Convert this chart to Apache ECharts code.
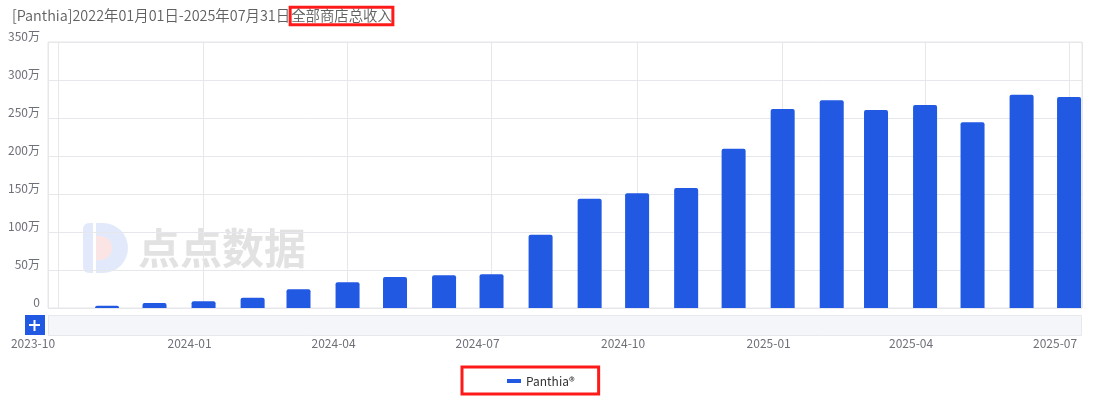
<!DOCTYPE html>
<html>
<head>
<meta charset="utf-8">
<script src="https://cdn.jsdelivr.net/npm/echarts@6/dist/echarts.min.js"></script>
<style>
  html, body { margin: 0; padding: 0; background: #fff; }
  #chart { width: 1094px; height: 399px; }
</style>
</head>
<body>
<div id="chart"></div>
<script>
// Monthly total revenue of all stores, in units of 万
const months = ['2023-11', '2023-12', '2024-01', '2024-02', '2024-03', '2024-04', '2024-05',
  '2024-06', '2024-07', '2024-08', '2024-09', '2024-10', '2024-11', '2024-12',
  '2025-01', '2025-02', '2025-03', '2025-04', '2025-05', '2025-06', '2025-07'];
const revenue = [3, 6.6, 8.8, 13.6, 24.6, 33.8, 40.8, 43, 44.3, 96.5, 143.9, 150.9,
  157.9, 209.6, 261.8, 273.2, 260.5, 267.1, 244.3, 280.7, 277.6];
const seriesName = 'Panthia®';
const titleMain = '[Panthia]2022年01月01日-2025年07月31日';
const titleTail = '全部商店总收入';
const yTicks = [0, 50, 100, 150, 200, 250, 300, 350];

const DAY = 24 * 3600 * 1000;
const BAR_WIDTH = 24;
const GRID_WIDTH = 1034;
// visible time window of the plot
const viewStart = new Date(2023, 9, 1).getTime() - 6.32 * DAY;
const viewSpan = 653.5 * DAY;
// bars on a time axis widen the extent by the bar width; pre-shrink so the
// final window equals the visible one
const pad = viewSpan * (BAR_WIDTH / GRID_WIDTH) / 2;
const axisStart = viewStart + pad;
const axisEnd = viewStart + viewSpan - pad;

const chart = echarts.init(document.getElementById('chart'));
const fontFamily = '"Noto Sans CJK SC", "Noto Sans", sans-serif';

function monthLabel(value) {
  const d = new Date(value);
  const text = d.getFullYear() + '-' + String(d.getMonth() + 1).padStart(2, '0');
  // the leftmost label sits a little further out, near the zoom button
  const isFirst = d.getTime() < new Date(2023, 11, 1).getTime();
  return (isFirst ? '{f|' : '{n|') + text + '}';
}

chart.setOption({
  animation: false,
  textStyle: { fontFamily: fontFamily },
  title: {
    left: 7,
    top: 0,
    text: '{a|' + titleMain + '}{b|' + titleTail + '}',
    textStyle: {
      rich: {
        a: { fontSize: 14.4, color: '#606060', fontWeight: 350, fontFamily: fontFamily, lineHeight: 22 },
        b: {
          fontSize: 14.4, color: '#606060', fontWeight: 350, fontFamily: fontFamily, lineHeight: 20,
          borderColor: '#ff1a1a', borderWidth: 3, padding: [1, 1, 2, 1]
        }
      }
    }
  },
  legend: {
    data: [seriesName],
    left: 462,
    top: 367,
    icon: 'rect',
    itemWidth: 14,
    itemHeight: 4,
    itemGap: 10,
    padding: [8, 24, 7, 45],
    borderColor: '#ff1a1a',
    borderWidth: 3,
    textStyle: { color: '#333', fontSize: 12, fontFamily: fontFamily }
  },
  grid: {
    left: 48, right: 12, top: 42, bottom: 91,
    show: true,
    borderColor: '#e6e7eb',
    borderWidth: 1
  },
  xAxis: {
    type: 'time',
    min: axisStart,
    max: axisEnd,
    splitNumber: 7,
    minInterval: 88 * DAY,
    maxInterval: 93 * DAY,
    axisLine: { show: false },
    axisTick: { show: false },
    splitLine: { show: true, lineStyle: { color: '#e6e7eb' } },
    axisLabel: {
      formatter: monthLabel,
      margin: 29,
      hideOverlap: false,
      showMinLabel: false,
      showMaxLabel: false,
      rich: {
        n: { color: '#6e7079', fontSize: 12, fontFamily: fontFamily, padding: [0, 28, 0, 0] },
        f: { color: '#6e7079', fontSize: 12, fontFamily: fontFamily, padding: [0, 50, 0, 0] }
      }
    }
  },
  yAxis: {
    type: 'value',
    min: yTicks[0],
    max: yTicks[yTicks.length - 1],
    interval: yTicks[1] - yTicks[0],
    axisLine: { show: false },
    axisTick: { show: false },
    splitLine: { lineStyle: { color: '#e6e7eb' } },
    axisLabel: {
      color: '#6e7079',
      fontSize: 12,
      margin: 8,
      verticalAlign: 'bottom',
      formatter: function (v) { return v === 0 ? '0' : v + '万'; }
    }
  },
  series: [{
    name: seriesName,
    type: 'bar',
    barWidth: BAR_WIDTH,
    itemStyle: { color: '#2259e2', borderRadius: [2, 2, 0, 0] },
    data: months.map(function (m, i) { return [m + '-01', revenue[i]]; })
  }],
  graphic: [
    // watermark logo
    {
      type: 'group', z: -10, silent: true,
      children: [
        { type: 'rect', shape: { x: 83, y: 223, width: 22, height: 50, r: [6, 0, 0, 6] },
          style: { fill: '#e2e9fa' } },
        { type: 'sector', shape: { cx: 103, cy: 248, r0: 0, r: 25, startAngle: -Math.PI / 2, endAngle: Math.PI / 2 },
          style: { fill: '#e2e9fa' } },
        { type: 'rect', shape: { x: 93, y: 222, width: 3, height: 52 }, style: { fill: '#ffffff' } },
        { type: 'sector', shape: { cx: 100, cy: 248, r0: 0, r: 12, startAngle: -Math.PI / 2, endAngle: Math.PI / 2 },
          style: { fill: '#fbe4e4' } },
        { type: 'rect', shape: { x: 96, y: 236, width: 4, height: 24 }, style: { fill: '#fbe4e4' } },
        { type: 'text', x: 138, y: 248,
          style: { text: '点点数据', font: 'bold 42px "Noto Sans CJK SC", sans-serif',
            fill: '#e2e2e2', textVerticalAlign: 'middle', textAlign: 'left' } }
      ]
    },
    // range bar below the plot
    { type: 'rect', silent: true, shape: { x: 48.5, y: 315.5, width: 1033, height: 20 },
      style: { fill: '#f5f6f9', stroke: '#e6e8ec', lineWidth: 1 } },
    { type: 'rect', silent: true, shape: { x: 25, y: 315, width: 20, height: 20 },
      style: { fill: '#2259e2' } },
    { type: 'rect', silent: true, shape: { x: 29, y: 324, width: 11, height: 2 },
      style: { fill: '#ffffff' } },
    { type: 'rect', silent: true, shape: { x: 33.5, y: 320, width: 2, height: 11 },
      style: { fill: '#ffffff' } }
  ]
});
</script>
</body>
</html>
